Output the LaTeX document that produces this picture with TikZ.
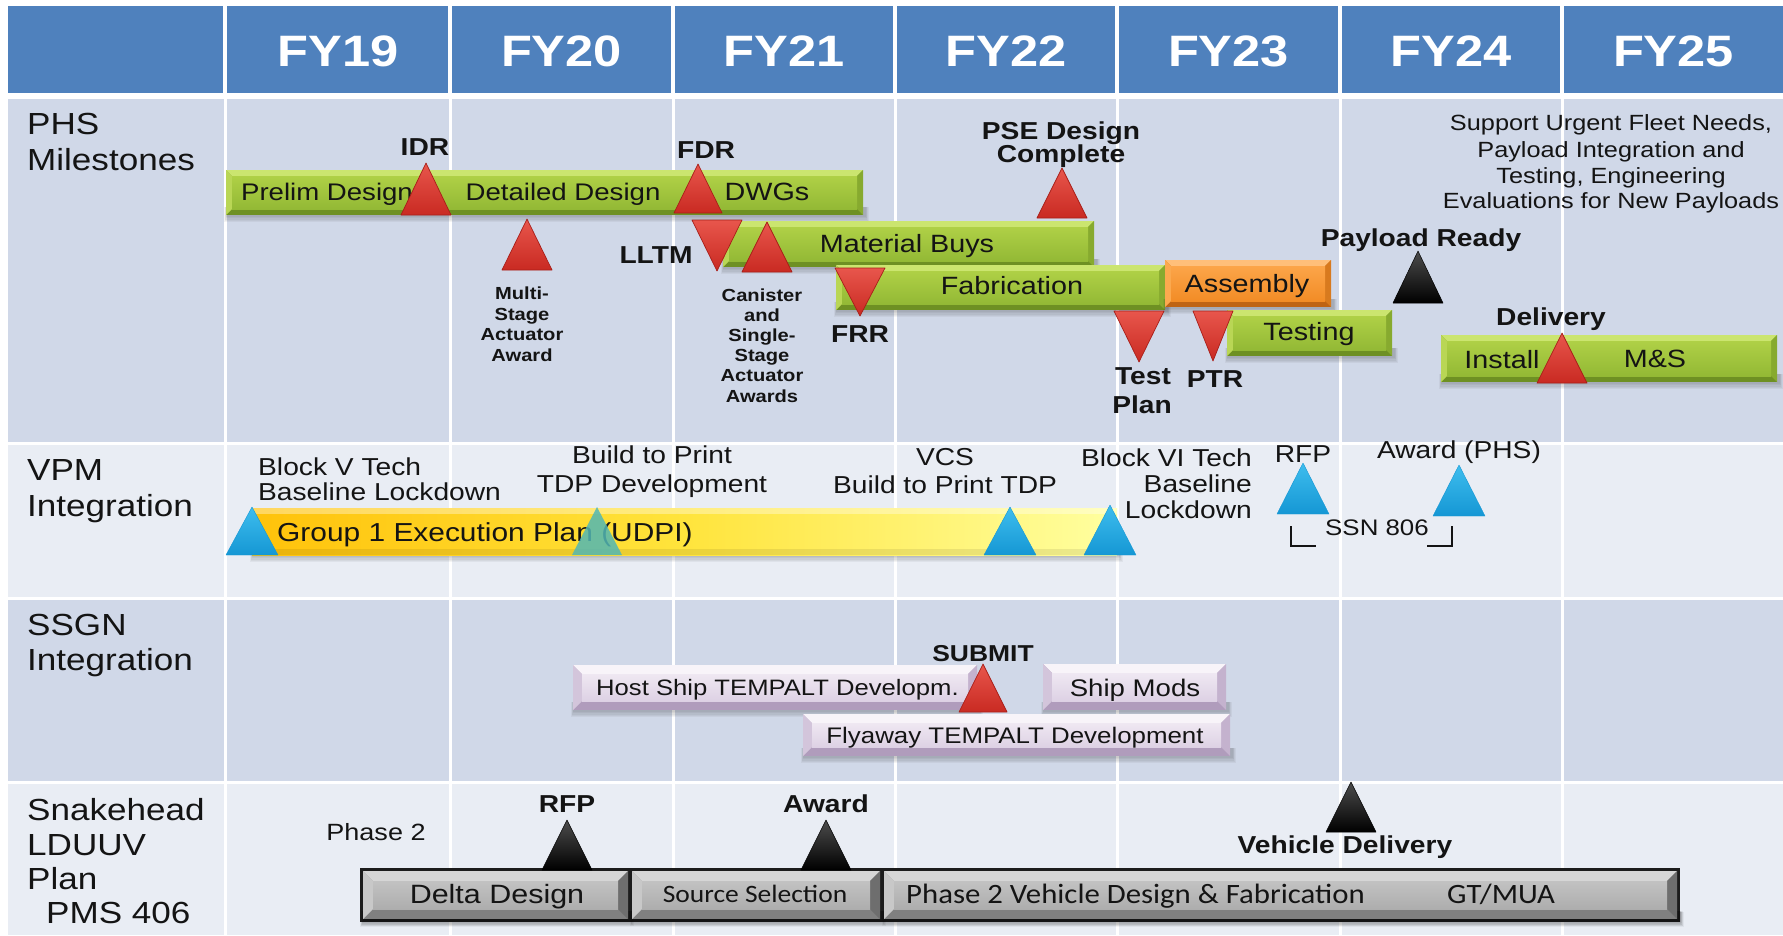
\documentclass[tikz,border=0pt]{standalone}
\usepackage{fontspec}
\setmainfont{Liberation Sans}[FakeStretch=1.15]
\newfontfamily\calfont{Carlito}[FakeStretch=1.1]

% grid
\definecolor{hdr}{HTML}{4F81BD}
\definecolor{rowD}{HTML}{D0D8E8}
\definecolor{rowL}{HTML}{E9EDF4}
\definecolor{ink}{HTML}{141414}
% green bars
\definecolor{gTop}{HTML}{CBE56F}
\definecolor{gLeft}{HTML}{B9D655}
\definecolor{gRight}{HTML}{87AA2F}
\definecolor{gBot}{HTML}{6E9023}
\definecolor{gFaceA}{HTML}{AFD046}
\definecolor{gFaceB}{HTML}{93B935}
% orange bar
\definecolor{oTop}{HTML}{FFBF7A}
\definecolor{oLeft}{HTML}{FBA94F}
\definecolor{oRight}{HTML}{D87A1E}
\definecolor{oBot}{HTML}{BF6414}
\definecolor{oFaceA}{HTML}{FCA549}
\definecolor{oFaceB}{HTML}{F28C26}
% lavender bars
\definecolor{lTop}{HTML}{F8F4F9}
\definecolor{lLeft}{HTML}{D3C5DB}
\definecolor{lRight}{HTML}{C4B2CE}
\definecolor{lBot}{HTML}{B09CBC}
\definecolor{lFaceA}{HTML}{EFE8F2}
\definecolor{lFaceB}{HTML}{DDD1E4}
% grey bars
\definecolor{aTop}{HTML}{D6D6D6}
\definecolor{aLeft}{HTML}{C8C8C8}
\definecolor{aRight}{HTML}{6E6E6E}
\definecolor{aBot}{HTML}{808080}
\definecolor{aFaceA}{HTML}{C2C2C2}
\definecolor{aFaceB}{HTML}{ADADAD}
\definecolor{aEdge}{HTML}{1C1C1C}
% milestone triangles
\definecolor{rdA}{HTML}{E8564C}
\definecolor{rdB}{HTML}{C92A22}
\definecolor{rdC}{HTML}{A81E18}
\definecolor{cyA}{HTML}{3EBDEE}
\definecolor{cyB}{HTML}{1597D4}
\definecolor{tlA}{HTML}{52B7B4}
% yellow bar
\definecolor{yA}{HTML}{FFC20A}
\definecolor{yM}{HTML}{FFE43C}
\definecolor{yB}{HTML}{FFFFA0}

\newcommand\tsz[2]{\fontsize{#1}{#2}\selectfont}

% soft shadow below a bar: x1 y1 x2 y2
\newcommand\barshade[4]{%
  \foreach \k in {1,...,5}
    \fill[black,opacity=0.045] (#1+1-0.6*\k,#4-8) rectangle (#3+2+0.8*\k,#4+1+1.2*\k);}

% bevelled bar: x1 y1 x2 y2 bevel colour-prefix
\newcommand\bevelbar[6]{%
  \barshade{#1}{#2}{#3}{#4}
  \fill[#6Bot] (#1,#2) rectangle (#3,#4);
  \fill[#6Top] (#1,#2) -- (#3,#2) -- (#3-#5,#2+#5) -- (#1+#5,#2+#5) -- cycle;
  \fill[#6Left] (#1,#2) -- (#1+#5,#2+#5) -- (#1+#5,#4-#5) -- (#1,#4) -- cycle;
  \fill[#6Right] (#3,#2) -- (#3,#4) -- (#3-#5,#4-#5) -- (#3-#5,#2+#5) -- cycle;
  \shade[top color=#6FaceA, bottom color=#6FaceB] (#1+#5,#2+#5) rectangle (#3-#5,#4-#5);}

% milestone triangles: style, x, apex y, base y, half width
\newcommand\mup[5]{\shade[#1] (#2,#3) -- (#2+#5,#4) -- (#2-#5,#4) -- cycle;}
% pointing down: style, x, top y, apex y, half width
\newcommand\mdown[5]{\shade[#1] (#2-#5,#3) -- (#2+#5,#3) -- (#2,#4) -- cycle;}

\begin{document}
\begin{tikzpicture}[x=1pt,y=-1pt,
  redm/.style={top color=rdA, bottom color=rdB, draw=rdC, line width=0.7pt, line join=round},
  blkm/.style={top color=black!70, bottom color=black, draw=black, line width=0.5pt, line join=round},
  cyanm/.style={top color=cyA, bottom color=cyB, draw=cyB, line width=0.4pt, line join=round},
  txt/.style={inner sep=0pt, anchor=base, text=ink},
  bartxt/.style={txt, font=\tsz{24}{28}},
  bld/.style={txt, font=\bfseries\tsz{24.5}{28}},
  sml/.style={txt, font=\bfseries\tsz{17.5}{20}},
  reg/.style={txt, font=\tsz{24.5}{28}},
  rowlbl/.style={txt, anchor=base west, font=\tsz{30.5}{34}},
  hdrtxt/.style={inner sep=0pt, anchor=base, text=white, font=\bfseries\tsz{44}{50}},
  calt/.style={txt, font=\calfont\tsz{28}{32}},
  brk/.style={draw=ink, line width=2.4pt}]

\useasboundingbox (0,0) rectangle (1783,935);
\fill[white] (0,0) rectangle (1783,935);

% header band
\foreach \a/\b in {8/223,227/448,452/671,675/893,897/1115,1119/1338,1342/1560,1564/1783}
  \fill[hdr] (\a,6) rectangle (\b,93);
\foreach \c/\t in {338/FY19,561.5/FY20,784/FY21,1006/FY22,1228.5/FY23,1451/FY24,1673.5/FY25}
  \node[hdrtxt] (h\t) at (\c,66) {\t};

% body cells
\foreach \t/\u/\col in {98.5/441.5/rowD,444.5/596.5/rowL,599.5/781/rowD,784/935/rowL}
  \foreach \a/\b in {8/223.5,226.5/448.5,451.5/671.5,674.5/893.5,896.5/1115.5,1118.5/1338.5,1341.5/1560.5,1563.5/1783}
    \fill[\col] (\a,\t) rectangle (\b,\u);

% row titles
\node[rowlbl] (r1a) at (27,134) {PHS};
\node[rowlbl] (r1b) at (27,170) {Milestones};
\node[rowlbl] (r2a) at (27,480) {VPM};
\node[rowlbl] (r2b) at (27,516) {Integration};
\node[rowlbl] (r3a) at (27,635) {SSGN};
\node[rowlbl] (r3b) at (27,670) {Integration};
\node[rowlbl] (r4a) at (27,820) {Snakehead};
\node[rowlbl] (r4b) at (27,855) {LDUUV};
\node[rowlbl] (r4c) at (27,889) {Plan};
\node[rowlbl] (r4d) at (46,923) {PMS 406};

% ---------------- PHS milestones ----------------
\bevelbar{226}{170}{863}{215}{6}{g}
\bevelbar{723}{221}{1094}{267}{6}{g}
\bevelbar{836}{265}{1165}{310}{6}{g}
\bevelbar{1165}{260}{1331}{307}{6}{o}
\bevelbar{1227}{310}{1392}{356}{6}{g}
\bevelbar{1441}{335}{1777}{382}{6}{g}

\node[bartxt] (prelim) at (327,200) {Prelim Design};
\node[bartxt] (detail) at (563,200) {Detailed Design};
\node[bartxt, font=\tsz{25}{28}] (dwgs) at (767,200) {DWGs};
\node[bartxt, font=\tsz{25}{28}] (matb) at (907,252) {Material Buys};
\node[bartxt, font=\tsz{25}{28}] (fab) at (1012,294) {Fabrication};
\node[bartxt, font=\tsz{25}{28}] (asm) at (1247,292) {Assembly};
\node[bartxt, font=\tsz{25}{28}] (tst) at (1309,340) {Testing};
\node[bartxt, font=\tsz{25}{28}] (inst) at (1502,368) {Install};
\node[bartxt, font=\tsz{25}{28}] (ms) at (1655,367) {M\&S};

\mup{redm}{426}{163}{215}{25}
\mup{redm}{698}{164}{213}{24}
\mup{redm}{527}{219}{270}{25}
\mdown{redm}{717}{220}{271}{25}
\mup{redm}{767}{222}{272}{25}
\mdown{redm}{860}{268}{316}{25}
\mup{redm}{1062}{168}{218}{25}
\mdown{redm}{1139}{311}{362}{25}
\mdown{redm}{1213}{311}{361}{20}
\mup{blkm}{1418}{251}{303}{25}
\mup{redm}{1562}{333}{383}{25}

\node[bld] (idr) at (425,155) {IDR};
\node[bld] (fdr) at (706,158) {FDR};
\node[bld] (lltm) at (656,263) {LLTM};
\node[bld] (frr) at (860,342) {FRR};
\node[bld] (pse1) at (1061,139) {PSE Design};
\node[bld] (pse2) at (1061,162) {Complete};
\node[bld] (tp1) at (1143,384) {Test};
\node[bld] (tp2) at (1142,413) {Plan};
\node[bld] (ptr) at (1215,387) {PTR};
\node[bld] (plr) at (1421,246) {Payload Ready};
\node[bld] (dlv) at (1551,325) {Delivery};

\node[sml] (ms1) at (522,299) {Multi-};
\node[sml] (ms2) at (522,320) {Stage};
\node[sml] (ms3) at (522,340.5) {Actuator};
\node[sml] (ms4) at (522,361) {Award};

\node[sml] (ca1) at (762,301) {Canister};
\node[sml] (ca2) at (762,321.2) {and};
\node[sml] (ca3) at (762,341.4) {Single-};
\node[sml] (ca4) at (762,361.6) {Stage};
\node[sml] (ca5) at (762,381.8) {Actuator};
\node[sml] (ca6) at (762,402) {Awards};

\node[txt, font=\tsz{22}{26}] (sp1) at (1611,130) {Support Urgent Fleet Needs,};
\node[txt, font=\tsz{22}{26}] (sp2) at (1611,157) {Payload Integration and};
\node[txt, font=\tsz{22}{26}] (sp3) at (1611,183) {Testing, Engineering};
\node[txt, font=\tsz{22}{26}] (sp4) at (1611,208) {Evaluations for New Payloads};

% ---------------- VPM integration ----------------
\barshade{252}{508}{1117}{555}
\shade[left color=yA, right color=yB, middle color=yM] (252,508) rectangle (1117,555);
\fill[white,opacity=0.35] (252,508) rectangle (1117,514);
\fill[black,opacity=0.08] (252,549) rectangle (1117,555);
\node[txt, anchor=base west, font=\tsz{26}{30}] (grp) at (277,541) {Group 1 Execution Plan (UDPI)};

\mup{cyanm}{252}{507}{555}{26}
\fill[tlA,opacity=0.85] (597,507) -- (622,555) -- (572,555) -- cycle;
\mup{cyanm}{1010}{507}{555}{26}
\mup{cyanm}{1110}{505}{555}{26}
\mup{cyanm}{1303}{463}{514}{26}
\mup{cyanm}{1459}{465}{516}{26}

\node[reg, anchor=base west] (b5a) at (258,475) {Block V Tech};
\node[reg, anchor=base west] (b5b) at (258,500) {Baseline Lockdown};
\node[reg] (btp1) at (652,463) {Build to Print};
\node[reg] (btp2) at (652,492) {TDP Development};
\node[reg] (vcs1) at (945,465) {VCS};
\node[reg] (vcs2) at (945,493) {Build to Print TDP};
\node[reg, anchor=base east] (b6a) at (1252,466) {Block VI Tech};
\node[reg, anchor=base east] (b6b) at (1252,492) {Baseline};
\node[reg, anchor=base east] (b6c) at (1252,518) {Lockdown};
\node[reg] (rfpv) at (1303,462) {RFP};
\node[reg] (awv) at (1459,458) {Award (PHS)};
\node[txt, font=\tsz{22.5}{26}] (ssn) at (1377,535) {SSN 806};
\draw[brk] (1291,526) -- (1291,546) -- (1316,546);
\draw[brk] (1452,526) -- (1452,546) -- (1427,546);

% ---------------- SSGN integration ----------------
\bevelbar{573}{665}{977}{710}{9}{l}
\bevelbar{1043}{664}{1226}{710}{9}{l}
\bevelbar{803}{714}{1230}{756}{9}{l}
\node[txt, anchor=base west, font=\tsz{22.3}{26}] (host) at (596,695) {Host Ship TEMPALT Developm.};
\node[txt, font=\tsz{24}{28}] (mods) at (1135,696) {Ship Mods};
\node[txt, font=\tsz{22.5}{26}] (fly) at (1015,743) {Flyaway TEMPALT Development};
\mup{redm}{983}{664}{712}{24}
\node[bld, font=\bfseries\tsz{23}{26}] (sub) at (983,661) {SUBMIT};

% ---------------- Snakehead LDUUV ----------------
\barshade{362}{870}{1678}{920}
\fill[aEdge] (360,868) rectangle (1680,922);
\foreach \a/\b in {363/628,632/880,884/1677}
  \bevelbar{\a}{871}{\b}{919}{10}{a};
\node[txt, font=\tsz{26.5}{30}] (delta) at (497,903) {Delta Design};
\node[txt, font=\calfont\tsz{25}{30}] (srcsel) at (755,902) {Source Selection};
\node[calt, anchor=base west] (ph2) at (906,903) {Phase 2 Vehicle Design \& Fabrication};
\node[calt, anchor=base west] (gtmua) at (1447,903) {GT/MUA};

\mup{blkm}{567}{820}{870}{25}
\mup{blkm}{826}{820}{870}{25}
\mup{blkm}{1351}{782}{832}{25}
\node[txt, font=\tsz{23.5}{28}] (phase) at (376,840) {Phase 2};
\node[bld] (rfps) at (567,812) {RFP};
\node[bld] (aws) at (826,812) {Award};
\node[bld] (vdl) at (1345,853) {Vehicle Delivery};

\end{tikzpicture}
\end{document}
